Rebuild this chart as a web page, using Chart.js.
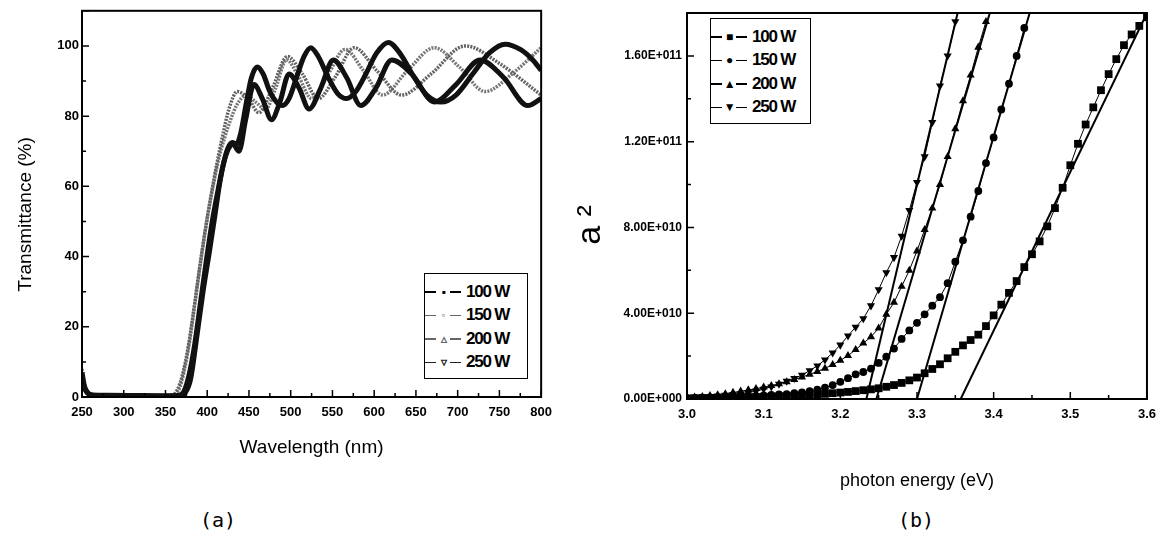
<!DOCTYPE html>
<html>
<head>
<meta charset="utf-8">
<script src="https://cdn.jsdelivr.net/npm/chart.js@4.4.1/dist/chart.umd.min.js"></script>
<style>
  body { margin: 0; background: #fff; width: 1164px; height: 544px; position: relative; overflow: hidden; font-family: "Liberation Sans", Arial, sans-serif; }
  .box { position: absolute; }
  .legend { position: absolute; border: 1.5px solid #000; background: #fff; box-sizing: border-box; padding-top: 6px; }
  .row { display: flex; align-items: center; height: 23.5px; font-weight: bold; font-size: 17px; letter-spacing: -1.2px; }
  .seg { width: 11px; height: 1.5px; background: #000; }
  .mk { width: 14px; text-align: center; font-size: 12px; line-height: 12px; }
  .lab { margin-left: 5px; }
  .cap { position: absolute; top: 508px; font-family: "DejaVu Sans Mono", monospace; font-size: 20px; }
</style>
</head>
<body>
<div class="box" style="left:0;top:0;width:560px;height:470px"><canvas id="chartA"></canvas></div>
<div class="box" style="left:560px;top:0;width:604px;height:500px"><canvas id="chartB"></canvas></div>
<div class="legend" id="legA" style="left:424px;top:273px;width:104px;height:106px"></div>
<div class="legend" id="legB" style="left:710px;top:18px;width:101px;height:106px"></div>
<div class="cap" style="left:200px">(a)</div>
<div class="cap" style="left:898px">(b)</div>
<script>
// series names
const labels = ['100 W', '150 W', '200 W', '250 W'];

// (a) transmittance vs wavelength
const wl100 = [250, 253, 257, 262, 280, 320, 360, 368, 373, 380, 388, 395, 403, 410, 415, 420, 425, 430, 435, 440, 447, 453, 460, 467, 475, 483, 490, 498, 507, 516, 524, 533, 545, 556, 567, 578, 590, 603, 617, 632, 648, 663, 680, 698, 718, 738, 757, 775, 790, 800];
const tr100 = [7, 3, 1.2, 0.6, 0.5, 0.4, 0.3, 0.4, 1, 5, 18, 30, 42, 53, 61, 67, 71, 72.5, 72, 75, 84, 91, 94, 92, 87, 84, 83, 85, 91, 97, 99.5, 97, 91, 86.5, 85, 87, 92, 98, 101, 97.5, 91, 86, 84, 86, 92, 98, 100.5, 99, 96, 93];
const wl150 = [250, 253, 258, 265, 300, 350, 358, 364, 370, 377, 384, 391, 398, 405, 412, 419, 426, 436, 449, 462, 478, 496, 514, 533, 553, 576, 603, 633, 668, 709, 750, 800];
const tr150 = [8, 3.5, 1.2, 0.6, 0.5, 0.3, 0.5, 2, 6, 14, 25, 37, 48, 58, 67, 75, 82, 87, 85, 81, 88, 97, 92, 85, 91, 99.5, 93, 86, 92, 100, 95, 86];
const wl200 = [250, 254, 259, 266, 300, 352, 360, 366, 372, 379, 386, 393, 400, 407, 414, 421, 428, 435, 447, 458, 470, 482, 495, 510, 525, 545, 565, 587, 610, 640, 672, 702, 733, 765, 800];
const tr200 = [6, 2.5, 1, 0.5, 0.4, 0.3, 0.5, 2, 7, 16, 28, 40, 51, 60, 68, 74, 79, 83, 86, 84, 82, 88, 96, 91, 85, 92, 99, 93, 86, 93, 99.5, 94, 87, 92, 99.5];
const wl250 = [250, 254, 258, 264, 300, 340, 366, 372, 378, 385, 392, 399, 406, 413, 419, 425, 431, 438, 446, 456, 466, 477, 487, 498, 510, 522, 536, 551, 567, 584, 602, 621, 645, 672, 698, 727, 755, 784, 800];
const tr250 = [5, 2, 0.8, 0.5, 0.4, 0.3, 0.4, 1.5, 6, 15, 27, 39, 50, 59, 66, 70.5, 72, 70, 79, 89, 85, 79, 84, 92, 88, 82, 88, 96, 91, 83, 88, 96, 92, 84, 89, 96, 91, 83, 85];
const xTicksA = [250, 300, 350, 400, 450, 500, 550, 600, 650, 700, 750, 800];
const yTicksA = [0, 20, 40, 60, 80, 100];

// (b) alpha^2 (in units of 1E10) vs photon energy
const energy = [3.00, 3.01, 3.02, 3.03, 3.04, 3.05, 3.06, 3.07, 3.08, 3.09, 3.10, 3.11, 3.12, 3.13, 3.14, 3.15, 3.16, 3.17, 3.18, 3.19, 3.20, 3.21, 3.22, 3.23, 3.24, 3.25, 3.26, 3.27, 3.28, 3.29, 3.30, 3.31, 3.32, 3.33, 3.34, 3.35, 3.36, 3.37, 3.38, 3.39, 3.40, 3.41, 3.42, 3.43, 3.44, 3.45, 3.46, 3.47, 3.48, 3.49, 3.50, 3.51, 3.52, 3.53, 3.54, 3.55, 3.56, 3.57, 3.58, 3.59, 3.60];
const a100 = [0.03, 0.04, 0.04, 0.05, 0.05, 0.06, 0.07, 0.07, 0.08, 0.09, 0.1, 0.11, 0.12, 0.14, 0.15, 0.17, 0.19, 0.21, 0.24, 0.27, 0.3, 0.33, 0.37, 0.41, 0.45, 0.5, 0.57, 0.65, 0.75, 0.87, 1.0, 1.2, 1.4, 1.62, 1.9, 2.2, 2.5, 2.75, 3.0, 3.4, 3.9, 4.4, 4.95, 5.5, 6.15, 6.75, 7.35, 8.05, 8.9, 9.85, 10.9, 11.9, 12.8, 13.6, 14.4, 15.15, 15.85, 16.5, 17.0, 17.4, 17.8];
const a150 = [0.04, 0.05, 0.06, 0.07, 0.08, 0.1, 0.11, 0.12, 0.14, 0.15, 0.17, 0.19, 0.21, 0.23, 0.27, 0.31, 0.37, 0.44, 0.53, 0.65, 0.8, 0.97, 1.15, 1.26, 1.42, 1.68, 1.97, 2.35, 2.8, 3.2, 3.55, 3.95, 4.35, 4.75, 5.4, 6.4, 7.4, 8.5, 9.7, 11.0, 12.2, 13.5, 14.7, 16.0, 17.3];
const a200 = [0.05, 0.08, 0.11, 0.15, 0.19, 0.24, 0.3, 0.36, 0.42, 0.48, 0.55, 0.62, 0.7, 0.8, 0.9, 1.02, 1.15, 1.28, 1.43, 1.6, 1.8, 2.02, 2.3, 2.6, 2.9, 3.3, 3.95, 4.5, 5.25, 6.0, 6.9, 7.9, 8.9, 10.0, 11.3, 12.6, 13.9, 15.1, 16.4, 17.6];
const a250 = [0.05, 0.07, 0.1, 0.12, 0.15, 0.18, 0.21, 0.24, 0.3, 0.37, 0.46, 0.57, 0.7, 0.84, 0.96, 1.12, 1.32, 1.55, 1.83, 2.15, 2.52, 2.95, 3.35, 3.75, 4.35, 5.1, 5.9, 6.6, 7.6, 8.8, 10.1, 11.3, 12.9, 14.6, 16.0, 17.6];
// linear fits: energy at alpha^2 = 0 and at the top of the frame
const fit100 = [3.357, 3.600];
const fit150 = [3.300, 3.447];
const fit200 = [3.247, 3.395];
const fit250 = [3.234, 3.353];
const fitY = [0, 18];
const xTicksB = [3.0, 3.1, 3.2, 3.3, 3.4, 3.5, 3.6];
const yTicksB = [0, 4, 8, 12, 16];

const pts = (xs, ys) => ys.map((v, i) => ({ x: xs[i], y: v }));
const mids = t => t.slice(1).map((v, i) => (v + t[i]) / 2);
const NB = '\u00a0';

function sci(v) {
  if (v === 0) return '0.00E+000';
  const [m, e] = (v * 1e10).toExponential(2).split('e');
  const n = parseInt(e, 10);
  return m + 'E' + (n < 0 ? '-' : '+') + String(Math.abs(n)).padStart(3, '0');
}

// frame + inward ticks
const frameTicks = {
  id: 'frameTicks',
  afterDraw(chart, args, o) {
    const { ctx, chartArea: a, scales: { x, y } } = chart;
    ctx.save();
    ctx.strokeStyle = '#000';
    ctx.lineWidth = 2;
    ctx.strokeRect(a.left, a.top, a.right - a.left, a.bottom - a.top);
    ctx.lineWidth = 1.5;
    ctx.beginPath();
    o.xMajor.forEach(v => { const p = x.getPixelForValue(v); ctx.moveTo(p, a.bottom); ctx.lineTo(p, a.bottom - 7); });
    o.xMinor.forEach(v => { const p = x.getPixelForValue(v); ctx.moveTo(p, a.bottom); ctx.lineTo(p, a.bottom - 4); });
    o.yMajor.forEach(v => { const p = y.getPixelForValue(v); ctx.moveTo(a.left, p); ctx.lineTo(a.left + 7, p); });
    o.yMinor.forEach(v => { const p = y.getPixelForValue(v); ctx.moveTo(a.left, p); ctx.lineTo(a.left + 4, p); });
    ctx.stroke();
    ctx.restore();
  }
};

const tickFont = { family: 'Liberation Sans', size: 13, weight: 'bold' };

new Chart(document.getElementById('chartA'), {
  type: 'line',
  data: {
    datasets: [
      { label: labels[0], data: pts(wl100, tr100), borderColor: '#111', borderWidth: 5, order: 0 },
      { label: labels[3], data: pts(wl250, tr250), borderColor: '#111', borderWidth: 5, order: 0 },
      { label: labels[1], data: pts(wl150, tr150), borderColor: '#626262', borderWidth: 3.5, borderDash: [2, 1.2], order: 1 },
      { label: labels[2], data: pts(wl200, tr200), borderColor: '#767676', borderWidth: 3.5, borderDash: [2, 1.2], order: 1 }
    ]
  },
  options: {
    responsive: true,
    maintainAspectRatio: false,
    animation: false,
    cubicInterpolationMode: 'monotone',
    elements: { point: { radius: 0 } },
    layout: { padding: { top: 8, right: 17, left: 0, bottom: 0 } },
    plugins: {
      legend: { display: false },
      tooltip: { enabled: false },
      frameTicks: { xMajor: xTicksA, xMinor: mids(xTicksA), yMajor: yTicksA.concat([110]), yMinor: mids(yTicksA).concat([110]) }
    },
    scales: {
      x: {
        type: 'linear', min: 250, max: 800,
        afterBuildTicks: s => { s.ticks = xTicksA.map(v => ({ value: v })); },
        afterFit: s => { s.height = 73; },
        grid: { display: false, drawTicks: false },
        border: { display: false },
        ticks: { font: tickFont, color: '#000', padding: 8, maxRotation: 0 },
        title: { display: true, text: 'Wavelength (nm)', color: '#000', font: { family: 'Liberation Sans', size: 19 }, padding: { top: 0, bottom: 11 } }
      },
      y: {
        min: 0, max: 110,
        afterBuildTicks: s => { s.ticks = yTicksA.map(v => ({ value: v })); },
        afterFit: s => { s.width = 82; },
        grid: { display: false, drawTicks: false },
        border: { display: false },
        ticks: { font: tickFont, color: '#000', padding: 3 },
        title: { display: true, text: 'Transmittance (%)' + NB.repeat(4), color: '#000', font: { family: 'Liberation Sans', size: 19 }, padding: { top: 14, bottom: 0 } }
      }
    }
  },
  plugins: [frameTicks]
});

const markerSet = [
  { style: 'rect', r: 5.5, rot: 0 },
  { style: 'circle', r: 3.9, rot: 0 },
  { style: 'triangle', r: 4.7, rot: 0 },
  { style: 'triangle', r: 4.7, rot: 180 }
];
const seriesB = [a100, a150, a200, a250];
const fitsB = [fit100, fit150, fit200, fit250];

const dataB = seriesB.map((s, i) => ({
  label: labels[i],
  data: pts(energy, s),
  borderColor: '#000', backgroundColor: '#000', borderWidth: 1,
  pointStyle: markerSet[i].style, pointRadius: markerSet[i].r, pointRotation: markerSet[i].rot,
  pointBorderWidth: 0, tension: 0
})).concat(fitsB.map((f, i) => ({
  label: 'fit ' + labels[i],
  data: pts(f, fitY),
  borderColor: '#000', borderWidth: 2, pointRadius: 0, tension: 0
})));

new Chart(document.getElementById('chartB'), {
  type: 'line',
  data: { datasets: dataB },
  options: {
    responsive: true,
    maintainAspectRatio: false,
    animation: false,
    layout: { padding: { top: 13, right: 16, left: 0, bottom: 0 } },
    plugins: {
      legend: { display: false },
      tooltip: { enabled: false },
      frameTicks: { xMajor: xTicksB, xMinor: mids(xTicksB), yMajor: yTicksB, yMinor: mids(yTicksB).concat([18]) }
    },
    scales: {
      x: {
        type: 'linear', min: 3.0, max: 3.6,
        afterBuildTicks: s => { s.ticks = xTicksB.map(v => ({ value: v })); },
        afterFit: s => { s.height = 101; },
        grid: { display: false, drawTicks: false },
        border: { display: false },
        ticks: { font: tickFont, color: '#000', padding: 8, maxRotation: 0, callback: v => v.toFixed(1) },
        title: { display: true, text: 'photon energy (eV)', color: '#000', font: { family: 'Liberation Sans', size: 18 }, padding: { top: 0, bottom: 8 } }
      },
      y: {
        min: 0, max: 18,
        afterBuildTicks: s => { s.ticks = yTicksB.map(v => ({ value: v })); },
        afterFit: s => { s.width = 127; },
        grid: { display: false, drawTicks: false },
        border: { display: false },
        ticks: { font: { family: 'Liberation Sans', size: 12, weight: 'bold' }, color: '#000', padding: 5, callback: v => sci(v) },
        title: { display: true, text: 'a \u00b2' + NB.repeat(4), color: '#000', font: { family: 'Liberation Sans', size: 34 }, padding: { top: 10, bottom: 0 } }
      }
    }
  },
  plugins: [frameTicks]
});

// legends
const markA = ['\u25aa', '\u25e6', '\u25b5', '\u25bf'];
const markB = ['\u25a0', '\u25cf', '\u25b2', '\u25bc'];
const colA = ['#000', '#666', '#666', '#222'];
function legend(id, marks, cols) {
  const el = document.getElementById(id);
  labels.forEach((l, i) => {
    const row = document.createElement('div');
    row.className = 'row';
    const c = cols ? cols[i] : '#000';
    row.innerHTML = '<span class="seg" style="background:' + c + '"></span><span class="mk" style="color:' + c + '">' + marks[i] +
      '</span><span class="seg" style="background:' + c + '"></span><span class="lab">' + l + '</span>';
    el.appendChild(row);
  });
}
legend('legA', markA, colA);
legend('legB', markB, null);
</script>
</body>
</html>
